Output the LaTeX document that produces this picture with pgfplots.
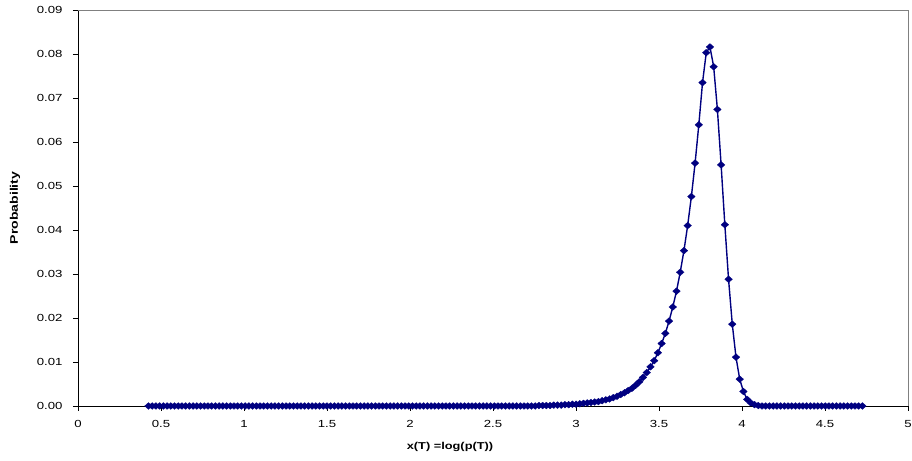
\documentclass[border=0pt]{standalone}
\usepackage{fontspec}
\setmainfont{Liberation Sans}
\newfontfamily\chartfont{Liberation Sans}[FakeStretch=1.28]
\usepackage{pgfplots}
\usepackage{pgfplotstable}
\pgfplotsset{compat=1.18}

\definecolor{navyline}{HTML}{000080}

% x = log(p(T)), probability
\pgfplotstableread{
x y
0.4246 0
0.4470 0
0.4694 0
0.4918 0
0.5142 0
0.5366 0
0.5590 0
0.5814 0
0.6038 0
0.6262 0
0.6486 0
0.6710 0
0.6934 0
0.7158 0
0.7382 0
0.7606 0
0.7830 0
0.8054 0
0.8278 0
0.8502 0
0.8726 0
0.8950 0
0.9174 0
0.9398 0
0.9622 0
0.9846 0
1.0070 0
1.0294 0
1.0518 0
1.0742 0
1.0966 0
1.1190 0
1.1414 0
1.1638 0
1.1862 0
1.2086 0
1.2310 0
1.2534 0
1.2758 0
1.2982 0
1.3206 0
1.3430 0
1.3654 0
1.3878 0
1.4102 0
1.4326 0
1.4550 0
1.4774 0
1.4998 0
1.5222 0
1.5446 0
1.5670 0
1.5894 0
1.6118 0
1.6342 0
1.6566 0
1.6790 0
1.7014 0
1.7238 0
1.7462 0
1.7686 0
1.7910 0
1.8134 0
1.8358 0
1.8582 0
1.8806 0
1.9030 0
1.9254 0
1.9478 0
1.9702 0
1.9926 0
2.0150 0
2.0374 0
2.0598 0
2.0822 0
2.1046 0
2.1270 0
2.1494 0
2.1718 0
2.1942 0
2.2166 0
2.2390 0
2.2614 0
2.2838 0
2.3062 0
2.3286 0
2.3510 0
2.3734 0
2.3958 0
2.4182 0
2.4406 0
2.4630 0
2.4854 0
2.5078 0
2.5302 0
2.5526 0
2.5750 0
2.5974 0
2.6198 0
2.6422 0
2.6646 0
2.6870 0
2.7094 0
2.7318 0
2.7542 0
2.7766 0.0001
2.7990 0.0001
2.8214 0.0001
2.8438 0.0001
2.8662 0.0002
2.8886 0.0002
2.9110 0.0002
2.9334 0.0003
2.9558 0.0003
2.9782 0.0004
3.0006 0.0004
3.0230 0.0005
3.0454 0.0006
3.0678 0.0007
3.0902 0.0008
3.1126 0.0009
3.1350 0.0010
3.1574 0.0012
3.1798 0.0014
3.2022 0.0016
3.2246 0.0019
3.2470 0.0022
3.2694 0.0026
3.2918 0.0030
3.3142 0.0035
3.3366 0.0040
3.3590 0.0047
3.3814 0.0055
3.4038 0.0065
3.4262 0.0076
3.4486 0.0089
3.4710 0.0103
3.4934 0.0121
3.5158 0.0142
3.5382 0.0165
3.5606 0.0193
3.5830 0.0225
3.6054 0.0261
3.6278 0.0304
3.6502 0.0353
3.6726 0.0410
3.6950 0.0476
3.7174 0.0552
3.7398 0.0639
3.7622 0.0735
3.7846 0.0803
3.8070 0.0816
3.8294 0.0771
3.8518 0.0674
3.8742 0.0548
3.8966 0.0412
3.9190 0.0288
3.9414 0.0186
3.9638 0.0111
3.9862 0.0061
4.0086 0.0033
4.0310 0.0015
4.0534 0.0007
4.0758 0.0003
4.0982 0.0001
4.1206 0
4.1430 0
4.1654 0
4.1878 0
4.2102 0
4.2326 0
4.2550 0
4.2774 0
4.2998 0
4.3222 0
4.3446 0
4.3670 0
4.3894 0
4.4118 0
4.4342 0
4.4566 0
4.4790 0
4.5014 0
4.5238 0
4.5462 0
4.5686 0
4.5910 0
4.6134 0
4.6358 0
4.6582 0
4.6806 0
4.7030 0
4.7254 0
}\probdata

\begin{document}
\begin{tikzpicture}
\begin{axis}[
    name=ax,
    scale only axis,
    width=830pt, height=396pt,
    xmin=0, xmax=5, ymin=0, ymax=0.09,
    xtick={0,0.5,...,5},
    ytick={0,0.01,...,0.09},
    axis x line*=bottom, axis y line*=left,
    axis line style={black, line width=0.8pt},
    tick align=outside,
    major tick length=5pt,
    tick style={black, line width=0.8pt},
    /pgf/number format/assume math mode=true,
    ticklabel style={font=\chartfont\fontsize{10.3}{12}\selectfont},
    yticklabel style={xshift=-7pt, /pgf/number format/.cd, fixed, fixed zerofill, precision=2},
    xticklabel style={yshift=-6pt, /pgf/number format/.cd, fixed},
    scaled y ticks=false,
    every axis x label/.style={at={(rel axis cs:0.5,0)}, xshift=-43pt, yshift=-41pt, anchor=center},
    every axis y label/.style={at={(rel axis cs:0,0.5)}, xshift=-63pt, rotate=90, anchor=center},
    xlabel={\chartfont\fontsize{10}{12}\selectfont\bfseries x(T) =log(p(T))},
    ylabel={\chartfont\fontsize{11}{13}\selectfont\bfseries Probability},
    clip=false,
]
\draw[gray, line width=0.8pt] (rel axis cs:0,1) -- (rel axis cs:1,1) -- (rel axis cs:1,0);
\addplot[navyline, line width=1.4pt, mark=diamond*, mark size=3.4pt,
    mark options={xscale=1.5, fill=navyline, draw=navyline, line width=0.3pt}] table[x=x, y=y] {\probdata};
\end{axis}
\pgfresetboundingbox
\path (ax.south west) ++(-78pt,-55pt) coordinate (bl);
\path (ax.north east) ++(4pt,10pt) coordinate (tr);
\path[use as bounding box] (bl) rectangle (tr);
\end{tikzpicture}
\end{document}
